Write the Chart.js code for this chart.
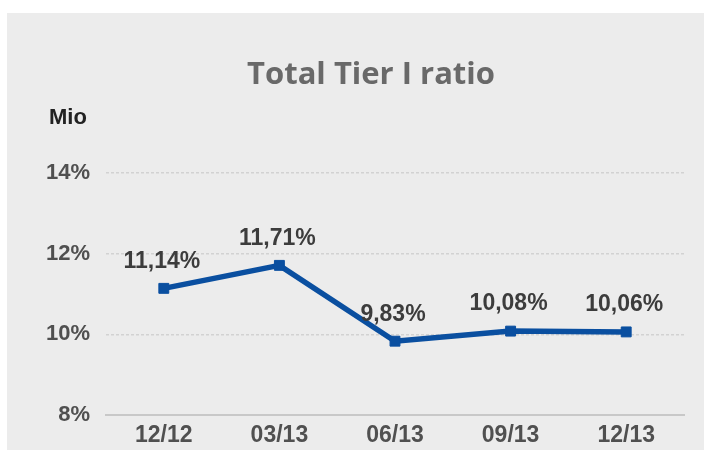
<!DOCTYPE html>
<html>
<head>
<meta charset="utf-8">
<script src="https://cdn.jsdelivr.net/npm/chart.js@4"></script>
<style>
html,body{margin:0;padding:0;background:#ffffff;width:704px;height:450px;overflow:hidden;}
#wrap{position:absolute;left:7px;top:13px;width:697px;height:437px;background:#ececec;}
</style>
</head>
<body>
<div id="wrap"><canvas id="c" width="697" height="437"></canvas></div>
<script>
const categories = ["12/12", "03/13", "06/13", "09/13", "12/13"];
const ratioValues = [11.14, 11.71, 9.83, 10.08, 10.06];
const ratioLabels = ["11,14%", "11,71%", "9,83%", "10,08%", "10,06%"];
const yTicks = [8, 10, 12, 14];
const chartTitle = "Total Tier I ratio";
const unitLabel = "Mio";

const textPlugin = {
  id: 'textPlugin',
  afterDatasetsDraw(chart) {
    const ctx = chart.ctx;
    ctx.save();
    // title
    ctx.fillStyle = '#696969';
    ctx.font = 'bold 31px "Open Sans", sans-serif';
    ctx.textAlign = 'center';
    ctx.textBaseline = 'middle';
    ctx.fillText(chartTitle, 364, 62);
    // unit
    ctx.fillStyle = '#222222';
    ctx.font = 'bold 22px "Liberation Sans", Arial, sans-serif';
    ctx.textAlign = 'left';
    ctx.fillText(unitLabel, 42, 105);
    // data labels
    const meta = chart.getDatasetMeta(0);
    ctx.fillStyle = '#3c3c3c';
    ctx.font = 'bold 23px "Liberation Sans", Arial, sans-serif';
    ctx.textAlign = 'center';
    meta.data.forEach((pt, i) => {
      ctx.fillText(ratioLabels[i], pt.x - 2, pt.y - 27);
    });
    ctx.restore();
  }
};

new Chart(document.getElementById('c'), {
  type: 'line',
  data: {
    labels: categories,
    datasets: [{
      data: ratioValues,
      borderColor: '#0a4fa0',
      backgroundColor: '#0a4fa0',
      borderWidth: 5.5,
      pointStyle: 'rect',
      pointRadius: 7,
      pointBorderWidth: 1,
      pointBorderColor: '#0a4fa0',
      pointBackgroundColor: '#0a4fa0',
      tension: 0,
      fill: false
    }]
  },
  options: {
    responsive: false,
    animation: false,
    layout: { padding: { top: 160, right: 20, left: 0, bottom: 0 } },
    plugins: { legend: { display: false }, title: { display: false }, tooltip: { enabled: false } },
    scales: {
      x: {
        offset: true,
        grid: { display: false, drawTicks: false },
        border: { display: true, color: '#c8c8c8', width: 2 },
        ticks: {
          padding: 7,
          color: '#505050',
          font: { family: '"Liberation Sans", Arial, sans-serif', size: 23, weight: 'bold' }
        },
        afterFit(scale) { scale.height = 35; }
      },
      y: {
        min: 8, max: 14,
        afterBuildTicks(scale) { scale.ticks = yTicks.map(v => ({ value: v })); },
        grid: {
          drawTicks: false,
          color: ctx => ctx.tick && ctx.tick.value === 8 ? 'rgba(0,0,0,0)' : '#d2d2d2',
          lineWidth: 1.5
        },
        border: { display: false, dash: [3, 2] },
        ticks: {
          padding: 16,
          color: '#505050',
          font: { family: '"Liberation Sans", Arial, sans-serif', size: 22, weight: 'bold' },
          callback: v => v + '%'
        },
        afterFit(scale) { scale.width = 99; }
      }
    }
  },
  plugins: [textPlugin]
});
</script>
</body>
</html>
